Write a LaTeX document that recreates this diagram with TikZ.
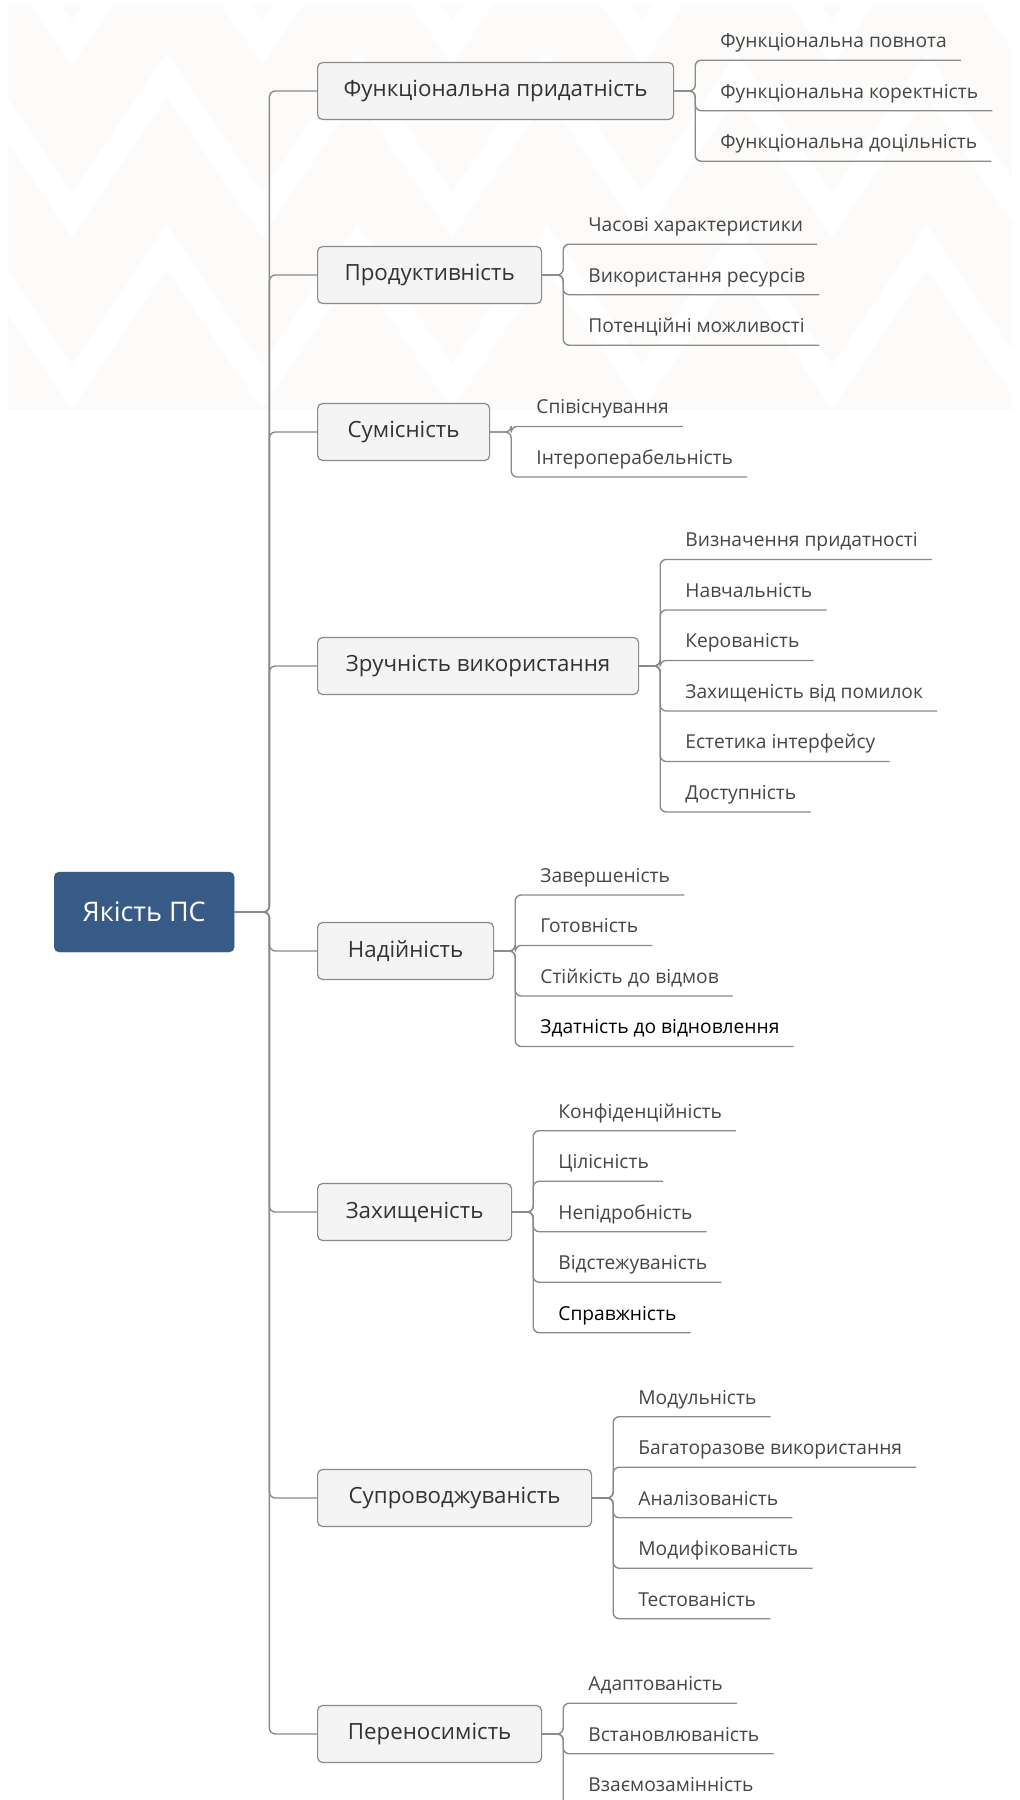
\documentclass[tikz,border=0pt]{standalone}
\usepackage{fontspec}
\setmainfont{Open Sans}
\usetikzlibrary{positioning,calc}
\definecolor{rootblue}{HTML}{375A87}
\definecolor{linegray}{HTML}{8A8A8A}
\definecolor{boxfill}{HTML}{F4F4F4}
\definecolor{leaftext}{HTML}{454545}
\definecolor{wmark}{HTML}{FCFBFA}

\begin{document}
\begin{tikzpicture}[
  x=1pt, y=-1pt,
  root/.style={draw=rootblue, fill=rootblue, rounded corners=5pt, text=white,
    minimum width=180pt, minimum height=80pt, font=\fontsize{27}{32}\selectfont},
  topic/.style={draw=linegray, line width=1.2pt, fill=boxfill, rounded corners=5pt,
    minimum height=57pt, text=black!80, font=\fontsize{22.3}{26}\selectfont},
  leaf/.style={inner sep=0pt, text height=18pt, text depth=4pt, text=leaftext,
    font=\fontsize{19.2}{23}\selectfont},
  link/.style={draw=linegray, line width=1.4pt, rounded corners=6pt}
]
\useasboundingbox (0,0) rectangle (1020,1800);

% faint background pattern
\fill[wmark] (8,5) rectangle (1012,410);
\begin{scope}
  \clip (8,5) rectangle (1012,410);
  \foreach \k in {-1,0,1}
    \draw[white, line width=25pt, line join=miter] (-23,75+172*\k)
      \foreach \m in {0,...,5} { -- (72+190*\m,215+172*\k) -- (167+190*\m,75+172*\k) };
\end{scope}

\node[root, anchor=west] (root) at (54,912) {Якість ПС};

\node[topic, anchor=west, minimum width=356pt] (fun) at (317,91) {Функціональна придатність};
\node[topic, anchor=west, minimum width=224pt] (perf) at (317,275) {Продуктивність};
\node[topic, anchor=west, minimum width=172pt] (comp) at (317,432) {Сумісність};
\node[topic, anchor=west, minimum width=321pt] (usab) at (317,666) {Зручність використання};
\node[topic, anchor=west, minimum width=176pt] (rel) at (317,951) {Надійність};
\node[topic, anchor=west, minimum width=194pt] (sec) at (317,1212) {Захищеність};
\node[topic, anchor=west, minimum width=274pt] (maint) at (317,1498) {Супроводжуваність};
\node[topic, anchor=west, minimum width=224pt] (port) at (317,1734) {Переносимість};

\draw[link] (root.east) -- ++(35,0) |- (fun.west);
\draw[link] (root.east) -- ++(35,0) |- (perf.west);
\draw[link] (root.east) -- ++(35,0) |- (comp.west);
\draw[link] (root.east) -- ++(35,0) |- (usab.west);
\draw[link] (root.east) -- ++(35,0) |- (rel.west);
\draw[link] (root.east) -- ++(35,0) |- (sec.west);
\draw[link] (root.east) -- ++(35,0) |- (maint.west);
\draw[link] (root.east) -- ++(35,0) |- (port.west);

% functional suitability
\node[leaf, right=46pt of fun, yshift=50.5pt] (fun1) {Функціональна повнота};
\node[leaf, right=46pt of fun] (fun2) {Функціональна коректність};
\node[leaf, right=46pt of fun, yshift=-50.5pt] (fun3) {Функціональна доцільність};
\draw[link] (fun.east) -- ++(21,0) |- ($(fun1.south east)+(14,8.5)$);
\draw[link] (fun.east) -- ++(21,0) |- ($(fun2.south east)+(14,8.5)$);
\draw[link] (fun.east) -- ++(21,0) |- ($(fun3.south east)+(14,8.5)$);

% performance
\node[leaf, right=46pt of perf, yshift=50.5pt] (perf1) {Часові характеристики};
\node[leaf, right=46pt of perf] (perf2) {Використання ресурсів};
\node[leaf, right=46pt of perf, yshift=-50.5pt] (perf3) {Потенційні можливості};
\draw[link] (perf.east) -- ++(21,0) |- ($(perf1.south east)+(14,8.5)$);
\draw[link] (perf.east) -- ++(21,0) |- ($(perf2.south east)+(14,8.5)$);
\draw[link] (perf.east) -- ++(21,0) |- ($(perf3.south east)+(14,8.5)$);

% compatibility
\node[leaf, right=46pt of comp, yshift=25.25pt] (comp1) {Співіснування};
\node[leaf, right=46pt of comp, yshift=-25.25pt] (comp2) {Інтероперабельність};
\draw[link] (comp.east) -- ++(21,0) |- ($(comp1.south east)+(14,8.5)$);
\draw[link] (comp.east) -- ++(21,0) |- ($(comp2.south east)+(14,8.5)$);

% usability
\node[leaf, right=46pt of usab, yshift=126.25pt] (usab1) {Визначення придатності};
\node[leaf, right=46pt of usab, yshift=75.75pt] (usab2) {Навчальність};
\node[leaf, right=46pt of usab, yshift=25.25pt] (usab3) {Керованість};
\node[leaf, right=46pt of usab, yshift=-25.25pt] (usab4) {Захищеність від помилок};
\node[leaf, right=46pt of usab, yshift=-75.75pt] (usab5) {Естетика інтерфейсу};
\node[leaf, right=46pt of usab, yshift=-126.25pt] (usab6) {Доступність};
\draw[link] (usab.east) -- ++(21,0) |- ($(usab1.south east)+(14,8.5)$);
\draw[link] (usab.east) -- ++(21,0) |- ($(usab2.south east)+(14,8.5)$);
\draw[link] (usab.east) -- ++(21,0) |- ($(usab3.south east)+(14,8.5)$);
\draw[link] (usab.east) -- ++(21,0) |- ($(usab4.south east)+(14,8.5)$);
\draw[link] (usab.east) -- ++(21,0) |- ($(usab5.south east)+(14,8.5)$);
\draw[link] (usab.east) -- ++(21,0) |- ($(usab6.south east)+(14,8.5)$);

% reliability
\node[leaf, right=46pt of rel, yshift=75.75pt] (rel1) {Завершеність};
\node[leaf, right=46pt of rel, yshift=25.25pt] (rel2) {Готовність};
\node[leaf, right=46pt of rel, yshift=-25.25pt] (rel3) {Стійкість до відмов};
\node[leaf, right=46pt of rel, yshift=-75.75pt, text=black] (rel4) {Здатність до відновлення};
\draw[link] (rel.east) -- ++(21,0) |- ($(rel1.south east)+(14,8.5)$);
\draw[link] (rel.east) -- ++(21,0) |- ($(rel2.south east)+(14,8.5)$);
\draw[link] (rel.east) -- ++(21,0) |- ($(rel3.south east)+(14,8.5)$);
\draw[link] (rel.east) -- ++(21,0) |- ($(rel4.south east)+(14,8.5)$);

% security
\node[leaf, right=46pt of sec, yshift=101pt] (sec1) {Конфіденційність};
\node[leaf, right=46pt of sec, yshift=50.5pt] (sec2) {Цілісність};
\node[leaf, right=46pt of sec] (sec3) {Непідробність};
\node[leaf, right=46pt of sec, yshift=-50.5pt] (sec4) {Відстежуваність};
\node[leaf, right=46pt of sec, yshift=-101pt, text=black] (sec5) {Справжність};
\draw[link] (sec.east) -- ++(21,0) |- ($(sec1.south east)+(14,8.5)$);
\draw[link] (sec.east) -- ++(21,0) |- ($(sec2.south east)+(14,8.5)$);
\draw[link] (sec.east) -- ++(21,0) |- ($(sec3.south east)+(14,8.5)$);
\draw[link] (sec.east) -- ++(21,0) |- ($(sec4.south east)+(14,8.5)$);
\draw[link] (sec.east) -- ++(21,0) |- ($(sec5.south east)+(14,8.5)$);

% maintainability
\node[leaf, right=46pt of maint, yshift=101pt] (maint1) {Модульність};
\node[leaf, right=46pt of maint, yshift=50.5pt] (maint2) {Багаторазове використання};
\node[leaf, right=46pt of maint] (maint3) {Аналізованість};
\node[leaf, right=46pt of maint, yshift=-50.5pt] (maint4) {Модифікованість};
\node[leaf, right=46pt of maint, yshift=-101pt] (maint5) {Тестованість};
\draw[link] (maint.east) -- ++(21,0) |- ($(maint1.south east)+(14,8.5)$);
\draw[link] (maint.east) -- ++(21,0) |- ($(maint2.south east)+(14,8.5)$);
\draw[link] (maint.east) -- ++(21,0) |- ($(maint3.south east)+(14,8.5)$);
\draw[link] (maint.east) -- ++(21,0) |- ($(maint4.south east)+(14,8.5)$);
\draw[link] (maint.east) -- ++(21,0) |- ($(maint5.south east)+(14,8.5)$);

% portability
\node[leaf, right=46pt of port, yshift=50.5pt] (port1) {Адаптованість};
\node[leaf, right=46pt of port] (port2) {Встановлюваність};
\node[leaf, right=46pt of port, yshift=-50.5pt] (port3) {Взаємозамінність};
\draw[link] (port.east) -- ++(21,0) |- ($(port1.south east)+(14,8.5)$);
\draw[link] (port.east) -- ++(21,0) |- ($(port2.south east)+(14,8.5)$);
\draw[link] (port.east) -- ++(21,0) |- ($(port3.south east)+(14,8.5)$);
\end{tikzpicture}
\end{document}
